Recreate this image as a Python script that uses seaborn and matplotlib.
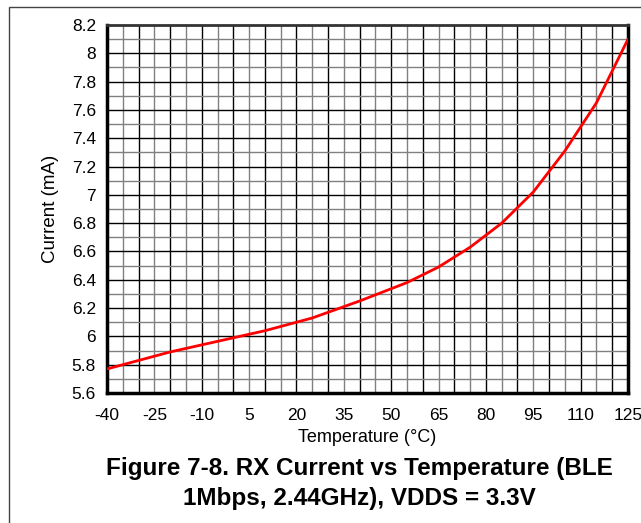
import numpy as np
import pandas as pd
import seaborn as sns
import matplotlib.pyplot as plt
from matplotlib.ticker import FixedLocator
from matplotlib.patches import Rectangle

# values
temperature = [-40, -30, -20, -10, 0, 10, 25, 40, 55, 65, 75, 85, 95, 105, 115, 125]
current_ma = [5.77, 5.83, 5.89, 5.94, 5.99, 6.04, 6.13, 6.25, 6.38, 6.49, 6.63, 6.80, 7.02, 7.31, 7.65, 8.10]
x_ticks = [-40, -25, -10, 5, 20, 35, 50, 65, 80, 95, 110, 125]
y_ticks = [5.6, 5.8, 6.0, 6.2, 6.4, 6.6, 6.8, 7.0, 7.2, 7.4, 7.6, 7.8, 8.0, 8.2]
y_tick_labels = ["5.6", "5.8", "6", "6.2", "6.4", "6.6", "6.8", "7", "7.2", "7.4", "7.6", "7.8", "8", "8.2"]

df = pd.DataFrame({"Temperature": temperature, "Current": current_ma})

sns.set_style("white")
plt.rcParams['font.family'] = ['Liberation Sans', 'DejaVu Sans']
plt.rcParams['axes.unicode_minus'] = False
for key in ['text.color', 'axes.labelcolor', 'xtick.color', 'ytick.color']:
    plt.rcParams[key] = 'black'

fig = plt.figure(figsize=(6.41, 5.23), dpi=100)
ax = fig.add_axes([107 / 641, 1 - 393 / 523, (628 - 107) / 641, (393 - 25) / 523])

# grid: gray every 5 degC / 0.1 mA, black every 10 degC / 0.2 mA
for t in np.arange(-35, 125, 5):
    ax.axvline(t, color='black' if t % 10 == 0 else '#808080', lw=1.0, zorder=1)
for c in np.arange(5.7, 8.2, 0.1):
    major = round(c * 10) % 2 == 0
    ax.axhline(c, color='black' if major else '#808080', lw=1.0, zorder=1)

sns.lineplot(data=df, x="Temperature", y="Current", color='red', lw=2.0, ax=ax, zorder=3)

ax.set_xlim(-40, 125)
ax.set_ylim(5.6, 8.2)
ax.xaxis.set_major_locator(FixedLocator(x_ticks))
ax.set_yticks(y_ticks)
ax.set_yticklabels(y_tick_labels)
ax.tick_params(axis='both', length=0, labelsize=12.5, colors='black')
ax.tick_params(axis='x', pad=11)
ax.tick_params(axis='y', pad=8)
ax.set_xlabel("Temperature (°C)", fontsize=13, labelpad=4)
ax.set_ylabel("Current (mA)", fontsize=13.5, labelpad=9)

for side in ['left', 'bottom', 'right']:
    ax.spines[side].set_linewidth(2.5)
    ax.spines[side].set_color('black')
ax.spines['top'].set_linewidth(2.0)
ax.spines['top'].set_color('#333333')

fig.text(359 / 641, 1 - 468 / 523, "Figure 7-8. RX Current vs Temperature (BLE",
         ha='center', va='center', fontsize=17.5, fontweight='bold')
fig.text(359 / 641, 1 - 498 / 523, "1Mbps, 2.44GHz), VDDS = 3.3V",
         ha='center', va='center', fontsize=17.5, fontweight='bold')

# outer frame of the figure box
fig.patches.append(Rectangle((9 / 641, -0.1), 1.2, 1 - 7 / 523 + 0.1,
                             transform=fig.transFigure, fill=False,
                             edgecolor='#444444', lw=1.0, clip_on=False))

fig.savefig("out.png", dpi=100)
plt.close(fig)
